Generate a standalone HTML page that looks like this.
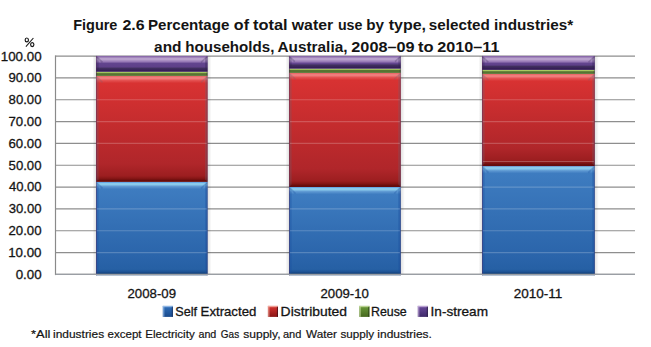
<!DOCTYPE html>
<html><head><meta charset="utf-8"><style>
html,body{margin:0;padding:0;background:#fff;}
svg{display:block;}
</style></head><body>
<svg width="651" height="347" viewBox="0 0 651 347">
<defs><linearGradient id="shL" x1="0" y1="0" x2="1" y2="0"><stop offset="0" stop-color="#000" stop-opacity="0"/><stop offset="1" stop-color="#000" stop-opacity="0.12"/></linearGradient><linearGradient id="shR" x1="0" y1="0" x2="1" y2="0"><stop offset="0" stop-color="#000" stop-opacity="0.12"/><stop offset="1" stop-color="#000" stop-opacity="0"/></linearGradient><linearGradient id="s1" gradientUnits="userSpaceOnUse" x1="0" y1="181.90" x2="0" y2="275.30"><stop offset="0.0000" stop-color="#68a8e6"/><stop offset="0.0064" stop-color="#68a8e6"/><stop offset="0.0139" stop-color="#8acaec"/><stop offset="0.0289" stop-color="#8acaec"/><stop offset="0.0493" stop-color="#5e98d2"/><stop offset="0.0771" stop-color="#3e7cc0"/><stop offset="0.8073" stop-color="#2a64aa"/><stop offset="0.9358" stop-color="#2660a4"/><stop offset="0.9625" stop-color="#1d5294"/><stop offset="0.9872" stop-color="#0f3a70"/><stop offset="1.0000" stop-color="#0f3a70"/></linearGradient><linearGradient id="s2" gradientUnits="userSpaceOnUse" x1="0" y1="75.90" x2="0" y2="181.90"><stop offset="0.0000" stop-color="#ea6a6a"/><stop offset="0.0057" stop-color="#ea6a6a"/><stop offset="0.0123" stop-color="#f07c7c"/><stop offset="0.0255" stop-color="#f07c7c"/><stop offset="0.0434" stop-color="#e45050"/><stop offset="0.0679" stop-color="#d83232"/><stop offset="0.8302" stop-color="#b0262a"/><stop offset="0.9434" stop-color="#9c1e20"/><stop offset="0.9670" stop-color="#861616"/><stop offset="0.9887" stop-color="#640c0c"/><stop offset="1.0000" stop-color="#640c0c"/></linearGradient><linearGradient id="s3" gradientUnits="userSpaceOnUse" x1="0" y1="71.80" x2="0" y2="75.90"><stop offset="0.0000" stop-color="#a8c862"/><stop offset="0.1463" stop-color="#a8c862"/><stop offset="0.2927" stop-color="#88a850"/><stop offset="0.4390" stop-color="#587532"/><stop offset="1.0000" stop-color="#557030"/></linearGradient><linearGradient id="s4" gradientUnits="userSpaceOnUse" x1="0" y1="55.90" x2="0" y2="71.80"><stop offset="0.0000" stop-color="#8a6aaa"/><stop offset="0.0629" stop-color="#8a6aaa"/><stop offset="0.1384" stop-color="#b8a0cc"/><stop offset="0.2264" stop-color="#b8a0cc"/><stop offset="0.3522" stop-color="#9a7cb8"/><stop offset="0.4780" stop-color="#62448e"/><stop offset="0.6981" stop-color="#5e4088"/><stop offset="0.7736" stop-color="#40305e"/><stop offset="0.9371" stop-color="#341c56"/><stop offset="1.0000" stop-color="#341c56"/></linearGradient><linearGradient id="s5" gradientUnits="userSpaceOnUse" x1="0" y1="187.00" x2="0" y2="275.30"><stop offset="0.0000" stop-color="#68a8e6"/><stop offset="0.0068" stop-color="#68a8e6"/><stop offset="0.0147" stop-color="#8acaec"/><stop offset="0.0306" stop-color="#8acaec"/><stop offset="0.0521" stop-color="#5e98d2"/><stop offset="0.0815" stop-color="#3e7cc0"/><stop offset="0.7961" stop-color="#2a64aa"/><stop offset="0.9320" stop-color="#2660a4"/><stop offset="0.9604" stop-color="#1d5294"/><stop offset="0.9864" stop-color="#0f3a70"/><stop offset="1.0000" stop-color="#0f3a70"/></linearGradient><linearGradient id="s6" gradientUnits="userSpaceOnUse" x1="0" y1="72.90" x2="0" y2="187.00"><stop offset="0.0000" stop-color="#ea6a6a"/><stop offset="0.0053" stop-color="#ea6a6a"/><stop offset="0.0114" stop-color="#f07c7c"/><stop offset="0.0237" stop-color="#f07c7c"/><stop offset="0.0403" stop-color="#e45050"/><stop offset="0.0631" stop-color="#d83232"/><stop offset="0.8422" stop-color="#b0262a"/><stop offset="0.9474" stop-color="#9c1e20"/><stop offset="0.9693" stop-color="#861616"/><stop offset="0.9895" stop-color="#640c0c"/><stop offset="1.0000" stop-color="#640c0c"/></linearGradient><linearGradient id="s7" gradientUnits="userSpaceOnUse" x1="0" y1="68.70" x2="0" y2="72.90"><stop offset="0.0000" stop-color="#a8c862"/><stop offset="0.1429" stop-color="#a8c862"/><stop offset="0.2857" stop-color="#88a850"/><stop offset="0.4286" stop-color="#587532"/><stop offset="1.0000" stop-color="#557030"/></linearGradient><linearGradient id="s8" gradientUnits="userSpaceOnUse" x1="0" y1="55.90" x2="0" y2="68.70"><stop offset="0.0000" stop-color="#8a6aaa"/><stop offset="0.0781" stop-color="#8a6aaa"/><stop offset="0.1719" stop-color="#b8a0cc"/><stop offset="0.2812" stop-color="#b8a0cc"/><stop offset="0.4375" stop-color="#9a7cb8"/><stop offset="0.5937" stop-color="#62448e"/><stop offset="0.6250" stop-color="#5e4088"/><stop offset="0.7188" stop-color="#40305e"/><stop offset="0.9219" stop-color="#341c56"/><stop offset="1.0000" stop-color="#341c56"/></linearGradient><linearGradient id="s9" gradientUnits="userSpaceOnUse" x1="0" y1="166.10" x2="0" y2="275.30"><stop offset="0.0000" stop-color="#68a8e6"/><stop offset="0.0055" stop-color="#68a8e6"/><stop offset="0.0119" stop-color="#8acaec"/><stop offset="0.0247" stop-color="#8acaec"/><stop offset="0.0421" stop-color="#5e98d2"/><stop offset="0.0659" stop-color="#3e7cc0"/><stop offset="0.8352" stop-color="#2a64aa"/><stop offset="0.9451" stop-color="#2660a4"/><stop offset="0.9679" stop-color="#1d5294"/><stop offset="0.9890" stop-color="#0f3a70"/><stop offset="1.0000" stop-color="#0f3a70"/></linearGradient><linearGradient id="s10" gradientUnits="userSpaceOnUse" x1="0" y1="73.90" x2="0" y2="166.10"><stop offset="0.0000" stop-color="#ea6a6a"/><stop offset="0.0065" stop-color="#ea6a6a"/><stop offset="0.0141" stop-color="#f07c7c"/><stop offset="0.0293" stop-color="#f07c7c"/><stop offset="0.0499" stop-color="#e45050"/><stop offset="0.0781" stop-color="#d83232"/><stop offset="0.8048" stop-color="#b0262a"/><stop offset="0.9349" stop-color="#9c1e20"/><stop offset="0.9620" stop-color="#861616"/><stop offset="0.9870" stop-color="#640c0c"/><stop offset="1.0000" stop-color="#640c0c"/></linearGradient><linearGradient id="s11" gradientUnits="userSpaceOnUse" x1="0" y1="69.90" x2="0" y2="73.90"><stop offset="0.0000" stop-color="#a8c862"/><stop offset="0.1500" stop-color="#a8c862"/><stop offset="0.3000" stop-color="#88a850"/><stop offset="0.4500" stop-color="#587532"/><stop offset="1.0000" stop-color="#557030"/></linearGradient><linearGradient id="s12" gradientUnits="userSpaceOnUse" x1="0" y1="55.90" x2="0" y2="69.90"><stop offset="0.0000" stop-color="#8a6aaa"/><stop offset="0.0714" stop-color="#8a6aaa"/><stop offset="0.1571" stop-color="#b8a0cc"/><stop offset="0.2571" stop-color="#b8a0cc"/><stop offset="0.4000" stop-color="#9a7cb8"/><stop offset="0.5429" stop-color="#62448e"/><stop offset="0.6571" stop-color="#5e4088"/><stop offset="0.7429" stop-color="#40305e"/><stop offset="0.9286" stop-color="#341c56"/><stop offset="1.0000" stop-color="#341c56"/></linearGradient><linearGradient id="L13" x1="0" y1="0" x2="0" y2="1"><stop offset="0" stop-color="#3070bc"/><stop offset="1" stop-color="#1a4a8c"/></linearGradient><linearGradient id="L14" x1="0" y1="0" x2="0" y2="1"><stop offset="0" stop-color="#d83430"/><stop offset="1" stop-color="#8a1616"/></linearGradient><linearGradient id="L15" x1="0" y1="0" x2="0" y2="1"><stop offset="0" stop-color="#6a9a3a"/><stop offset="1" stop-color="#46681e"/></linearGradient><linearGradient id="L16" x1="0" y1="0" x2="0" y2="1"><stop offset="0" stop-color="#6a4a9c"/><stop offset="1" stop-color="#3e2a6a"/></linearGradient></defs>
<rect width="651" height="347" fill="#fff"/>
<line x1="55.5" y1="274.40" x2="635" y2="274.40" stroke="#8e8e8e" stroke-width="1.15"/>
<line x1="55.5" y1="252.57" x2="635" y2="252.57" stroke="#8e8e8e" stroke-width="1.15"/>
<line x1="55.5" y1="230.74" x2="635" y2="230.74" stroke="#8e8e8e" stroke-width="1.15"/>
<line x1="55.5" y1="208.91" x2="635" y2="208.91" stroke="#8e8e8e" stroke-width="1.15"/>
<line x1="55.5" y1="187.08" x2="635" y2="187.08" stroke="#8e8e8e" stroke-width="1.15"/>
<line x1="55.5" y1="165.25" x2="635" y2="165.25" stroke="#8e8e8e" stroke-width="1.15"/>
<line x1="55.5" y1="143.42" x2="635" y2="143.42" stroke="#8e8e8e" stroke-width="1.15"/>
<line x1="55.5" y1="121.59" x2="635" y2="121.59" stroke="#8e8e8e" stroke-width="1.15"/>
<line x1="55.5" y1="99.76" x2="635" y2="99.76" stroke="#8e8e8e" stroke-width="1.15"/>
<line x1="55.5" y1="77.93" x2="635" y2="77.93" stroke="#8e8e8e" stroke-width="1.15"/>
<line x1="55.5" y1="56.10" x2="635" y2="56.10" stroke="#8e8e8e" stroke-width="1.15"/>
<line x1="55.5" y1="55.4" x2="55.5" y2="275.09999999999997" stroke="#8a8a8a" stroke-width="1.2"/>
<rect x="92.5" y="56.1" width="3.5" height="218.29999999999998" fill="url(#shL)"/>
<rect x="207.6" y="56.1" width="4" height="218.29999999999998" fill="url(#shR)"/>
<rect x="96" y="181.90" width="111.60" height="93.40" fill="url(#s1)"/>
<polygon points="96,181.9 98.6,184.5 98.6,272.69999999999993 96,275.29999999999995" fill="#1a50a0" opacity="0.35"/>
<polygon points="207.6,181.9 205.0,184.5 205.0,272.69999999999993 207.6,275.29999999999995" fill="#1a50a0" opacity="0.35"/>
<line x1="96.8" y1="182.70000000000002" x2="102.5" y2="188.4" stroke="#1a50a0" stroke-width="1.6" opacity="0.27999999999999997"/>
<line x1="206.79999999999998" y1="182.70000000000002" x2="201.1" y2="188.4" stroke="#1a50a0" stroke-width="1.6" opacity="0.27999999999999997"/>
<rect x="96" y="181.90" width="0.9" height="93.40" fill="#5a2a60" opacity="0.45"/>
<rect x="206.70" y="181.90" width="0.9" height="93.40" fill="#402858" opacity="0.4"/>
<rect x="96" y="75.90" width="111.60" height="106.00" fill="url(#s2)"/>
<polygon points="96,75.9 98.6,78.5 98.6,179.3 96,181.9" fill="#706070" opacity="0.3"/>
<polygon points="207.6,75.9 205.0,78.5 205.0,179.3 207.6,181.9" fill="#706070" opacity="0.3"/>
<line x1="96.8" y1="76.7" x2="102.5" y2="82.4" stroke="#706070" stroke-width="1.6" opacity="0.24"/>
<line x1="206.79999999999998" y1="76.7" x2="201.1" y2="82.4" stroke="#706070" stroke-width="1.6" opacity="0.24"/>
<rect x="96" y="75.90" width="0.9" height="106.00" fill="#5a2a60" opacity="0.45"/>
<rect x="206.70" y="75.90" width="0.9" height="106.00" fill="#402858" opacity="0.4"/>
<rect x="96" y="71.80" width="111.60" height="4.10" fill="url(#s3)"/>
<polygon points="96,71.8 97.23,73.03 97.23,74.67 96,75.9" fill="#304020" opacity="0.3"/>
<polygon points="207.6,71.8 206.37,73.03 206.37,74.67 207.6,75.9" fill="#304020" opacity="0.3"/>
<rect x="96" y="71.80" width="0.9" height="4.10" fill="#5a2a60" opacity="0.45"/>
<rect x="206.70" y="71.80" width="0.9" height="4.10" fill="#402858" opacity="0.4"/>
<rect x="96" y="55.90" width="111.60" height="15.90" fill="url(#s4)"/>
<polygon points="96,55.9 98.6,58.5 98.6,69.2 96,71.8" fill="#302050" opacity="0.3"/>
<polygon points="207.6,55.9 205.0,58.5 205.0,69.2 207.6,71.8" fill="#302050" opacity="0.3"/>
<line x1="96.8" y1="56.699999999999996" x2="102.5" y2="62.4" stroke="#302050" stroke-width="1.6" opacity="0.24"/>
<line x1="206.79999999999998" y1="56.699999999999996" x2="201.1" y2="62.4" stroke="#302050" stroke-width="1.6" opacity="0.24"/>
<rect x="96" y="55.90" width="0.9" height="15.90" fill="#5a2a60" opacity="0.45"/>
<rect x="206.70" y="55.90" width="0.9" height="15.90" fill="#402858" opacity="0.4"/>
<line x1="97" y1="252.57" x2="206.6" y2="252.57" stroke="#fff" stroke-width="1.2" opacity="0.2"/>
<line x1="97" y1="230.74" x2="206.6" y2="230.74" stroke="#fff" stroke-width="1.2" opacity="0.2"/>
<line x1="97" y1="208.91" x2="206.6" y2="208.91" stroke="#fff" stroke-width="1.2" opacity="0.2"/>
<line x1="97" y1="143.42" x2="206.6" y2="143.42" stroke="#fff" stroke-width="1.2" opacity="0.2"/>
<line x1="97" y1="121.59" x2="206.6" y2="121.59" stroke="#fff" stroke-width="1.2" opacity="0.2"/>
<line x1="97" y1="99.76" x2="206.6" y2="99.76" stroke="#fff" stroke-width="1.2" opacity="0.2"/>
<rect x="285.5" y="56.1" width="3.5" height="218.29999999999998" fill="url(#shL)"/>
<rect x="400.8" y="56.1" width="4" height="218.29999999999998" fill="url(#shR)"/>
<rect x="289" y="187.00" width="111.80" height="88.30" fill="url(#s5)"/>
<polygon points="289,187.0 291.6,189.6 291.6,272.69999999999993 289,275.29999999999995" fill="#1a50a0" opacity="0.35"/>
<polygon points="400.8,187.0 398.2,189.6 398.2,272.69999999999993 400.8,275.29999999999995" fill="#1a50a0" opacity="0.35"/>
<line x1="289.8" y1="187.8" x2="295.5" y2="193.5" stroke="#1a50a0" stroke-width="1.6" opacity="0.27999999999999997"/>
<line x1="400.0" y1="187.8" x2="394.3" y2="193.5" stroke="#1a50a0" stroke-width="1.6" opacity="0.27999999999999997"/>
<rect x="289" y="187.00" width="0.9" height="88.30" fill="#5a2a60" opacity="0.45"/>
<rect x="399.90" y="187.00" width="0.9" height="88.30" fill="#402858" opacity="0.4"/>
<rect x="289" y="72.90" width="111.80" height="114.10" fill="url(#s6)"/>
<polygon points="289,72.9 291.6,75.5 291.6,184.4 289,187.0" fill="#706070" opacity="0.3"/>
<polygon points="400.8,72.9 398.2,75.5 398.2,184.4 400.8,187.0" fill="#706070" opacity="0.3"/>
<line x1="289.8" y1="73.7" x2="295.5" y2="79.4" stroke="#706070" stroke-width="1.6" opacity="0.24"/>
<line x1="400.0" y1="73.7" x2="394.3" y2="79.4" stroke="#706070" stroke-width="1.6" opacity="0.24"/>
<rect x="289" y="72.90" width="0.9" height="114.10" fill="#5a2a60" opacity="0.45"/>
<rect x="399.90" y="72.90" width="0.9" height="114.10" fill="#402858" opacity="0.4"/>
<rect x="289" y="68.70" width="111.80" height="4.20" fill="url(#s7)"/>
<polygon points="289,68.7 290.26,69.96000000000001 290.26,71.64 289,72.9" fill="#304020" opacity="0.3"/>
<polygon points="400.8,68.7 399.54,69.96000000000001 399.54,71.64 400.8,72.9" fill="#304020" opacity="0.3"/>
<rect x="289" y="68.70" width="0.9" height="4.20" fill="#5a2a60" opacity="0.45"/>
<rect x="399.90" y="68.70" width="0.9" height="4.20" fill="#402858" opacity="0.4"/>
<rect x="289" y="55.90" width="111.80" height="12.80" fill="url(#s8)"/>
<polygon points="289,55.9 291.6,58.5 291.6,66.10000000000001 289,68.7" fill="#302050" opacity="0.3"/>
<polygon points="400.8,55.9 398.2,58.5 398.2,66.10000000000001 400.8,68.7" fill="#302050" opacity="0.3"/>
<line x1="289.8" y1="56.699999999999996" x2="294.76" y2="61.660000000000004" stroke="#302050" stroke-width="1.6" opacity="0.24"/>
<line x1="400.0" y1="56.699999999999996" x2="395.04" y2="61.660000000000004" stroke="#302050" stroke-width="1.6" opacity="0.24"/>
<rect x="289" y="55.90" width="0.9" height="12.80" fill="#5a2a60" opacity="0.45"/>
<rect x="399.90" y="55.90" width="0.9" height="12.80" fill="#402858" opacity="0.4"/>
<line x1="290" y1="252.57" x2="399.8" y2="252.57" stroke="#fff" stroke-width="1.2" opacity="0.2"/>
<line x1="290" y1="230.74" x2="399.8" y2="230.74" stroke="#fff" stroke-width="1.2" opacity="0.2"/>
<line x1="290" y1="208.91" x2="399.8" y2="208.91" stroke="#fff" stroke-width="1.2" opacity="0.2"/>
<line x1="290" y1="143.42" x2="399.8" y2="143.42" stroke="#fff" stroke-width="1.2" opacity="0.2"/>
<line x1="290" y1="121.59" x2="399.8" y2="121.59" stroke="#fff" stroke-width="1.2" opacity="0.2"/>
<line x1="290" y1="99.76" x2="399.8" y2="99.76" stroke="#fff" stroke-width="1.2" opacity="0.2"/>
<rect x="478.5" y="56.1" width="3.5" height="218.29999999999998" fill="url(#shL)"/>
<rect x="594.8" y="56.1" width="4" height="218.29999999999998" fill="url(#shR)"/>
<rect x="482" y="166.10" width="112.80" height="109.20" fill="url(#s9)"/>
<polygon points="482,166.1 484.6,168.7 484.6,272.69999999999993 482,275.29999999999995" fill="#1a50a0" opacity="0.35"/>
<polygon points="594.8,166.1 592.1999999999999,168.7 592.1999999999999,272.69999999999993 594.8,275.29999999999995" fill="#1a50a0" opacity="0.35"/>
<line x1="482.8" y1="166.9" x2="488.5" y2="172.6" stroke="#1a50a0" stroke-width="1.6" opacity="0.27999999999999997"/>
<line x1="594.0" y1="166.9" x2="588.3" y2="172.6" stroke="#1a50a0" stroke-width="1.6" opacity="0.27999999999999997"/>
<rect x="482" y="166.10" width="0.9" height="109.20" fill="#5a2a60" opacity="0.45"/>
<rect x="593.90" y="166.10" width="0.9" height="109.20" fill="#402858" opacity="0.4"/>
<rect x="482" y="73.90" width="112.80" height="92.20" fill="url(#s10)"/>
<polygon points="482,73.9 484.6,76.5 484.6,163.5 482,166.1" fill="#706070" opacity="0.3"/>
<polygon points="594.8,73.9 592.1999999999999,76.5 592.1999999999999,163.5 594.8,166.1" fill="#706070" opacity="0.3"/>
<line x1="482.8" y1="74.7" x2="488.5" y2="80.4" stroke="#706070" stroke-width="1.6" opacity="0.24"/>
<line x1="594.0" y1="74.7" x2="588.3" y2="80.4" stroke="#706070" stroke-width="1.6" opacity="0.24"/>
<rect x="482" y="73.90" width="0.9" height="92.20" fill="#5a2a60" opacity="0.45"/>
<rect x="593.90" y="73.90" width="0.9" height="92.20" fill="#402858" opacity="0.4"/>
<rect x="482" y="69.90" width="112.80" height="4.00" fill="url(#s11)"/>
<polygon points="482,69.9 483.2,71.10000000000001 483.2,72.7 482,73.9" fill="#304020" opacity="0.3"/>
<polygon points="594.8,69.9 593.5999999999999,71.10000000000001 593.5999999999999,72.7 594.8,73.9" fill="#304020" opacity="0.3"/>
<rect x="482" y="69.90" width="0.9" height="4.00" fill="#5a2a60" opacity="0.45"/>
<rect x="593.90" y="69.90" width="0.9" height="4.00" fill="#402858" opacity="0.4"/>
<rect x="482" y="55.90" width="112.80" height="14.00" fill="url(#s12)"/>
<polygon points="482,55.9 484.6,58.5 484.6,67.30000000000001 482,69.9" fill="#302050" opacity="0.3"/>
<polygon points="594.8,55.9 592.1999999999999,58.5 592.1999999999999,67.30000000000001 594.8,69.9" fill="#302050" opacity="0.3"/>
<line x1="482.8" y1="56.699999999999996" x2="488.3" y2="62.2" stroke="#302050" stroke-width="1.6" opacity="0.24"/>
<line x1="594.0" y1="56.699999999999996" x2="588.5" y2="62.2" stroke="#302050" stroke-width="1.6" opacity="0.24"/>
<rect x="482" y="55.90" width="0.9" height="14.00" fill="#5a2a60" opacity="0.45"/>
<rect x="593.90" y="55.90" width="0.9" height="14.00" fill="#402858" opacity="0.4"/>
<rect x="483" y="161.1" width="110.80" height="0.9" fill="#fff" opacity="0.28"/>
<line x1="483" y1="252.57" x2="593.8" y2="252.57" stroke="#fff" stroke-width="1.2" opacity="0.2"/>
<line x1="483" y1="230.74" x2="593.8" y2="230.74" stroke="#fff" stroke-width="1.2" opacity="0.2"/>
<line x1="483" y1="208.91" x2="593.8" y2="208.91" stroke="#fff" stroke-width="1.2" opacity="0.2"/>
<line x1="483" y1="187.08" x2="593.8" y2="187.08" stroke="#fff" stroke-width="1.2" opacity="0.2"/>
<line x1="483" y1="143.42" x2="593.8" y2="143.42" stroke="#fff" stroke-width="1.2" opacity="0.2"/>
<line x1="483" y1="121.59" x2="593.8" y2="121.59" stroke="#fff" stroke-width="1.2" opacity="0.2"/>
<line x1="483" y1="99.76" x2="593.8" y2="99.76" stroke="#fff" stroke-width="1.2" opacity="0.2"/>
<line x1="55.5" y1="274.40" x2="635" y2="274.40" stroke="#9a9ea4" stroke-width="1.1"/>
<rect x="162.8" y="305.9" width="10.1" height="11.0" fill="url(#L13)"/>
<rect x="162.8" y="305.9" width="10.1" height="1.3" fill="#9cc0ea" opacity="0.85"/>
<rect x="162.8" y="305.9" width="1.6" height="11.0" fill="#9cc0ea" opacity="0.6"/>
<rect x="171.8" y="306.8" width="1.1" height="10.1" fill="#142a55" opacity="0.7"/>
<rect x="267.9" y="305.9" width="10.1" height="11.0" fill="url(#L14)"/>
<rect x="267.9" y="305.9" width="10.1" height="1.3" fill="#f2b0a4" opacity="0.85"/>
<rect x="267.9" y="305.9" width="1.6" height="11.0" fill="#f2b0a4" opacity="0.6"/>
<rect x="276.9" y="306.8" width="1.1" height="10.1" fill="#3a0a14" opacity="0.7"/>
<rect x="359.3" y="305.9" width="10.1" height="11.0" fill="url(#L15)"/>
<rect x="359.3" y="305.9" width="10.1" height="1.3" fill="#c8dca0" opacity="0.85"/>
<rect x="359.3" y="305.9" width="1.6" height="11.0" fill="#c8dca0" opacity="0.6"/>
<rect x="368.3" y="306.8" width="1.1" height="10.1" fill="#1e3010" opacity="0.7"/>
<rect x="417.8" y="305.9" width="10.1" height="11.0" fill="url(#L16)"/>
<rect x="417.8" y="305.9" width="10.1" height="1.3" fill="#c8b0dc" opacity="0.85"/>
<rect x="417.8" y="305.9" width="1.6" height="11.0" fill="#c8b0dc" opacity="0.6"/>
<rect x="426.8" y="306.8" width="1.1" height="10.1" fill="#1e1438" opacity="0.7"/>
<text x="73.22" y="29.90" font-family="Liberation Sans, sans-serif" font-weight="bold" font-size="14.8" textLength="44.19" lengthAdjust="spacingAndGlyphs" fill="#141414">Figure</text>
<text x="122.46" y="29.90" font-family="Liberation Sans, sans-serif" font-weight="bold" font-size="14.8" textLength="22.16" lengthAdjust="spacingAndGlyphs" fill="#141414">2.6</text>
<text x="147.98" y="29.90" font-family="Liberation Sans, sans-serif" font-weight="bold" font-size="14.8" textLength="81.43" lengthAdjust="spacingAndGlyphs" fill="#141414">Percentage</text>
<text x="233.85" y="29.90" font-family="Liberation Sans, sans-serif" font-weight="bold" font-size="14.8" textLength="15.12" lengthAdjust="spacingAndGlyphs" fill="#141414">of</text>
<text x="252.98" y="29.90" font-family="Liberation Sans, sans-serif" font-weight="bold" font-size="14.8" textLength="34.57" lengthAdjust="spacingAndGlyphs" fill="#141414">total</text>
<text x="291.80" y="29.90" font-family="Liberation Sans, sans-serif" font-weight="bold" font-size="14.8" textLength="41.38" lengthAdjust="spacingAndGlyphs" fill="#141414">water</text>
<text x="337.93" y="29.90" font-family="Liberation Sans, sans-serif" font-weight="bold" font-size="14.8" textLength="24.55" lengthAdjust="spacingAndGlyphs" fill="#141414">use</text>
<text x="366.17" y="29.90" font-family="Liberation Sans, sans-serif" font-weight="bold" font-size="14.8" textLength="17.80" lengthAdjust="spacingAndGlyphs" fill="#141414">by</text>
<text x="388.78" y="29.90" font-family="Liberation Sans, sans-serif" font-weight="bold" font-size="14.8" textLength="37.24" lengthAdjust="spacingAndGlyphs" fill="#141414">type,</text>
<text x="428.89" y="29.90" font-family="Liberation Sans, sans-serif" font-weight="bold" font-size="14.8" textLength="60.98" lengthAdjust="spacingAndGlyphs" fill="#141414">selected</text>
<text x="494.07" y="29.90" font-family="Liberation Sans, sans-serif" font-weight="bold" font-size="14.8" textLength="79.12" lengthAdjust="spacingAndGlyphs" fill="#141414">industries*</text>
<text x="154.08" y="51.80" font-family="Liberation Sans, sans-serif" font-weight="bold" font-size="14.8" textLength="27.47" lengthAdjust="spacingAndGlyphs" fill="#141414">and</text>
<text x="185.38" y="51.80" font-family="Liberation Sans, sans-serif" font-weight="bold" font-size="14.8" textLength="89.00" lengthAdjust="spacingAndGlyphs" fill="#141414">households,</text>
<text x="277.48" y="51.80" font-family="Liberation Sans, sans-serif" font-weight="bold" font-size="14.8" textLength="70.00" lengthAdjust="spacingAndGlyphs" fill="#141414">Australia,</text>
<text x="351.35" y="51.80" font-family="Liberation Sans, sans-serif" font-weight="bold" font-size="14.8" textLength="63.22" lengthAdjust="spacingAndGlyphs" fill="#141414">2008–09</text>
<text x="417.98" y="51.80" font-family="Liberation Sans, sans-serif" font-weight="bold" font-size="14.8" textLength="15.56" lengthAdjust="spacingAndGlyphs" fill="#141414">to</text>
<text x="437.35" y="51.80" font-family="Liberation Sans, sans-serif" font-weight="bold" font-size="14.8" textLength="62.09" lengthAdjust="spacingAndGlyphs" fill="#141414">2010–11</text>
<text x="127.49" y="297.50" font-family="Liberation Sans, sans-serif" font-weight="normal" font-size="13" textLength="48.53" lengthAdjust="spacingAndGlyphs" fill="#141414" stroke="#141414" stroke-width="0.3">2008-09</text>
<text x="320.49" y="297.50" font-family="Liberation Sans, sans-serif" font-weight="normal" font-size="13" textLength="48.42" lengthAdjust="spacingAndGlyphs" fill="#141414" stroke="#141414" stroke-width="0.3">2009-10</text>
<text x="513.78" y="297.50" font-family="Liberation Sans, sans-serif" font-weight="normal" font-size="13" textLength="48.58" lengthAdjust="spacingAndGlyphs" fill="#141414" stroke="#141414" stroke-width="0.3">2010-11</text>
<text x="175.31" y="315.60" font-family="Liberation Sans, sans-serif" font-weight="normal" font-size="13" textLength="21.80" lengthAdjust="spacingAndGlyphs" fill="#141414" stroke="#141414" stroke-width="0.3">Self</text>
<text x="200.59" y="315.60" font-family="Liberation Sans, sans-serif" font-weight="normal" font-size="13" textLength="55.74" lengthAdjust="spacingAndGlyphs" fill="#141414" stroke="#141414" stroke-width="0.3">Extracted</text>
<text x="280.64" y="315.60" font-family="Liberation Sans, sans-serif" font-weight="normal" font-size="13" textLength="66.34" lengthAdjust="spacingAndGlyphs" fill="#141414" stroke="#141414" stroke-width="0.3">Distributed</text>
<text x="370.94" y="315.60" font-family="Liberation Sans, sans-serif" font-weight="normal" font-size="13" textLength="35.82" lengthAdjust="spacingAndGlyphs" fill="#141414" stroke="#141414" stroke-width="0.3">Reuse</text>
<text x="430.55" y="315.60" font-family="Liberation Sans, sans-serif" font-weight="normal" font-size="13" textLength="57.49" lengthAdjust="spacingAndGlyphs" fill="#141414" stroke="#141414" stroke-width="0.3">In-stream</text>
<text x="31.09" y="338.00" font-family="Liberation Sans, sans-serif" font-weight="normal" font-size="11.5" textLength="19.35" lengthAdjust="spacingAndGlyphs" fill="#141414" stroke="#141414" stroke-width="0.2">*All</text>
<text x="53.07" y="338.00" font-family="Liberation Sans, sans-serif" font-weight="normal" font-size="11.5" textLength="51.06" lengthAdjust="spacingAndGlyphs" fill="#141414" stroke="#141414" stroke-width="0.2">industries</text>
<text x="107.60" y="338.00" font-family="Liberation Sans, sans-serif" font-weight="normal" font-size="11.5" textLength="33.98" lengthAdjust="spacingAndGlyphs" fill="#141414" stroke="#141414" stroke-width="0.2">except</text>
<text x="145.20" y="338.00" font-family="Liberation Sans, sans-serif" font-weight="normal" font-size="11.5" textLength="49.51" lengthAdjust="spacingAndGlyphs" fill="#141414" stroke="#141414" stroke-width="0.2">Electricity</text>
<text x="198.43" y="338.00" font-family="Liberation Sans, sans-serif" font-weight="normal" font-size="11.5" textLength="17.92" lengthAdjust="spacingAndGlyphs" fill="#141414" stroke="#141414" stroke-width="0.2">and</text>
<text x="220.87" y="338.00" font-family="Liberation Sans, sans-serif" font-weight="normal" font-size="11.5" textLength="18.29" lengthAdjust="spacingAndGlyphs" fill="#141414" stroke="#141414" stroke-width="0.2">Gas</text>
<text x="243.29" y="338.00" font-family="Liberation Sans, sans-serif" font-weight="normal" font-size="11.5" textLength="37.23" lengthAdjust="spacingAndGlyphs" fill="#141414" stroke="#141414" stroke-width="0.2">supply,</text>
<text x="282.92" y="338.00" font-family="Liberation Sans, sans-serif" font-weight="normal" font-size="11.5" textLength="18.45" lengthAdjust="spacingAndGlyphs" fill="#141414" stroke="#141414" stroke-width="0.2">and</text>
<text x="306.10" y="338.00" font-family="Liberation Sans, sans-serif" font-weight="normal" font-size="11.5" textLength="30.84" lengthAdjust="spacingAndGlyphs" fill="#141414" stroke="#141414" stroke-width="0.2">Water</text>
<text x="340.40" y="338.00" font-family="Liberation Sans, sans-serif" font-weight="normal" font-size="11.5" textLength="33.84" lengthAdjust="spacingAndGlyphs" fill="#141414" stroke="#141414" stroke-width="0.2">supply</text>
<text x="377.37" y="338.00" font-family="Liberation Sans, sans-serif" font-weight="normal" font-size="11.5" textLength="54.58" lengthAdjust="spacingAndGlyphs" fill="#141414" stroke="#141414" stroke-width="0.2">industries.</text>
<g fill="none" stroke="#141414" stroke-width="1.15"><ellipse cx="26.8" cy="39.95" rx="1.65" ry="1.95"/><ellipse cx="32.25" cy="44.6" rx="1.65" ry="1.95"/><line x1="33.4" y1="38.0" x2="25.9" y2="46.7" stroke-width="1.05"/></g>
<text x="0.78" y="60.50" font-family="Liberation Sans, sans-serif" font-weight="normal" font-size="13" textLength="40.79" lengthAdjust="spacingAndGlyphs" fill="#141414" stroke="#141414" stroke-width="0.3">100.00</text>
<text x="8.49" y="82.33" font-family="Liberation Sans, sans-serif" font-weight="normal" font-size="13" textLength="33.05" lengthAdjust="spacingAndGlyphs" fill="#141414" stroke="#141414" stroke-width="0.3">90.00</text>
<text x="8.59" y="104.16" font-family="Liberation Sans, sans-serif" font-weight="normal" font-size="13" textLength="32.94" lengthAdjust="spacingAndGlyphs" fill="#141414" stroke="#141414" stroke-width="0.3">80.00</text>
<text x="8.49" y="125.99" font-family="Liberation Sans, sans-serif" font-weight="normal" font-size="13" textLength="33.05" lengthAdjust="spacingAndGlyphs" fill="#141414" stroke="#141414" stroke-width="0.3">70.00</text>
<text x="8.49" y="147.82" font-family="Liberation Sans, sans-serif" font-weight="normal" font-size="13" textLength="33.05" lengthAdjust="spacingAndGlyphs" fill="#141414" stroke="#141414" stroke-width="0.3">60.00</text>
<text x="8.59" y="169.65" font-family="Liberation Sans, sans-serif" font-weight="normal" font-size="13" textLength="32.94" lengthAdjust="spacingAndGlyphs" fill="#141414" stroke="#141414" stroke-width="0.3">50.00</text>
<text x="8.90" y="191.48" font-family="Liberation Sans, sans-serif" font-weight="normal" font-size="13" textLength="32.63" lengthAdjust="spacingAndGlyphs" fill="#141414" stroke="#141414" stroke-width="0.3">40.00</text>
<text x="8.70" y="213.31" font-family="Liberation Sans, sans-serif" font-weight="normal" font-size="13" textLength="32.84" lengthAdjust="spacingAndGlyphs" fill="#141414" stroke="#141414" stroke-width="0.3">30.00</text>
<text x="8.49" y="235.14" font-family="Liberation Sans, sans-serif" font-weight="normal" font-size="13" textLength="33.05" lengthAdjust="spacingAndGlyphs" fill="#141414" stroke="#141414" stroke-width="0.3">20.00</text>
<text x="8.18" y="256.97" font-family="Liberation Sans, sans-serif" font-weight="normal" font-size="13" textLength="33.36" lengthAdjust="spacingAndGlyphs" fill="#141414" stroke="#141414" stroke-width="0.3">10.00</text>
<text x="15.69" y="278.80" font-family="Liberation Sans, sans-serif" font-weight="normal" font-size="13" textLength="25.92" lengthAdjust="spacingAndGlyphs" fill="#141414" stroke="#141414" stroke-width="0.3">0.00</text>
</svg>
</body></html>
